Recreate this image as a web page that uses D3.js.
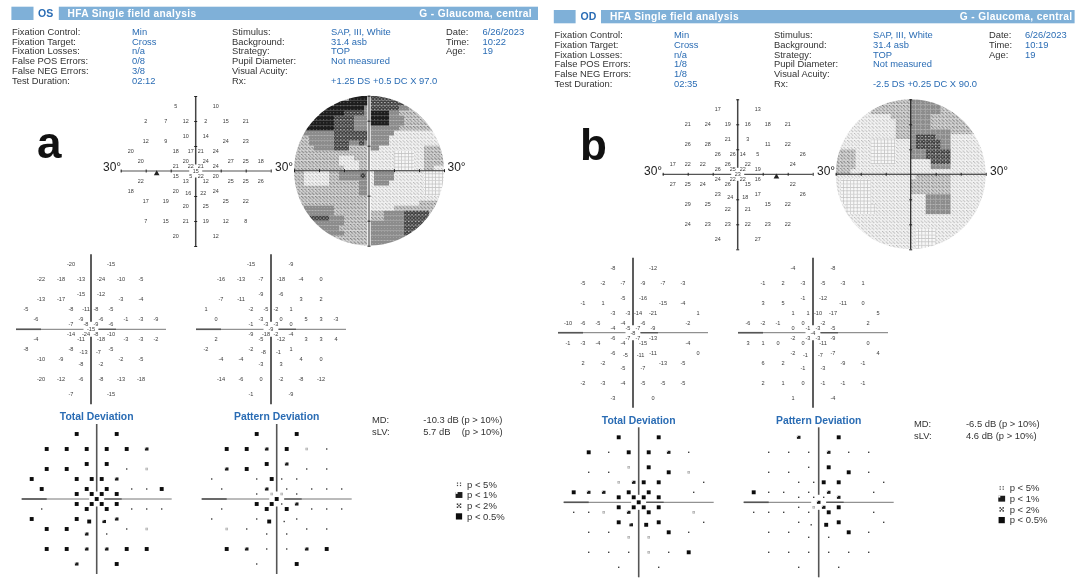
<!DOCTYPE html>
<html><head><meta charset="utf-8">
<style>html,body{margin:0;padding:0;background:#fff}svg{display:block;font-family:"Liberation Sans",Arial,sans-serif;filter:blur(0.4px)}</style>
<script src="https://cdn.jsdelivr.net/npm/d3@7"></script></head><body><svg id="c" width="1080" height="581"></svg>
<script>
// ---------- test grid (degrees) ----------
const gridXOS=[-8,8,-20,-12,-4,4,12,20,-4,4,-20,-12,12,20,-26,-8,-2,2,8,-22,-4,4,14,20,26,-8,-2,2,8,0,-8,-2,2,8,-22,-4,4,14,20,26,-26,-8,-3,3,8,-20,-12,12,20,-4,4,-20,-12,-4,4,12,20,-8,8];
const gridYOS=[-26,-26,-20,-20,-20,-20,-20,-20,-14,-14,-12,-12,-12,-12,-8,-8,-8,-8,-8,-4,-4,-4,-4,-4,-4,-2,-2,-2,-2,0,2,2,2,2,4,4,4,4,4,4,8,8,9,9,8,12,12,12,12,14,14,20,20,20,20,20,20,26,26];
const gridXOD=[-8,8,-20,-12,-4,4,12,20,-4,4,-20,-12,12,20,-8,-2,2,8,26,-26,-20,-14,-4,4,22,-8,-2,2,8,0,-8,-2,2,8,-26,-20,-14,-4,4,22,-8,-3,3,8,26,-20,-12,12,20,-4,4,-20,-12,-4,4,12,20,-8,8];
const gridYOD=[-26,-26,-20,-20,-20,-20,-20,-20,-14,-14,-12,-12,-12,-12,-8,-8,-8,-8,-8,-4,-4,-4,-4,-4,-4,-2,-2,-2,-2,0,2,2,2,2,4,4,4,4,4,4,8,9,9,8,8,12,12,12,12,14,14,20,20,20,20,20,20,26,26];
// ---------- sensitivities ----------
const thresholdOS=[5,10,2,7,12,2,15,21,10,14,12,9,24,23,20,18,17,21,24,20,20,24,27,25,18,21,22,21,24,15,15,5,22,20,22,13,12,25,25,26,18,20,16,22,24,17,19,25,22,20,25,7,15,21,19,12,8,20,12];
const totalOS=[-20,-15,-22,-18,-13,-24,-10,-5,-15,-12,-13,-17,-3,-4,-5,-8,-11,-8,-5,-6,-9,-6,-1,-3,-9,-7,-8,-9,-6,-15,-14,-24,-8,-10,-4,-11,-18,-3,-3,-2,-8,-8,-13,-7,-5,-10,-9,-2,-5,-8,-2,-20,-12,-6,-8,-13,-18,-7,-15];
const patternOS=[-15,-9,-16,-13,-7,-18,-4,0,-9,-6,-7,-11,3,2,1,-2,-5,-2,1,0,-3,0,5,3,-3,-1,-3,-3,0,-9,-9,-18,-2,-4,2,-5,-12,3,3,4,-2,-2,-8,-1,1,-4,-4,4,0,-3,3,-14,-6,0,-2,-8,-12,-1,-9];
const thresholdOD=[17,13,21,24,19,16,18,21,21,3,26,28,11,22,26,26,14,5,26,17,22,22,26,22,24,26,25,22,19,23,24,22,22,16,27,25,24,26,15,22,23,24,18,17,26,29,25,15,22,22,21,24,23,23,22,23,22,24,27];
const totalOD=[-8,-12,-5,-2,-7,-9,-7,-3,-5,-16,-1,1,-15,-4,-3,-3,-14,-21,1,-10,-6,-5,-4,-6,-2,-4,-5,-7,-9,-8,-6,-7,-7,-13,-1,-3,-4,-4,-15,-4,-6,-5,-11,-11,0,2,-2,-13,-5,-5,-7,-2,-3,-4,-5,-5,-5,-3,0];
const patternOD=[-4,-8,-1,2,-3,-5,-3,1,-1,-12,3,5,-11,0,1,1,-10,-17,5,-6,-2,-1,0,-2,2,0,-1,-3,-5,-4,-2,-3,-3,-9,3,1,0,0,-11,0,-2,-1,-7,-7,4,6,2,-9,-1,-1,-3,2,1,0,-1,-1,-1,1,-4];
// ---------- probability levels: 0 none, 1 p<5, 3 p<1, 4 p<0.5 ----------
const probTotalOS=[4,4,4,4,4,4,4,3,4,4,4,4,0,1,4,4,4,4,3,4,4,4,0,0,4,4,4,4,4,4,4,4,4,4,0,4,4,0,0,0,4,4,4,3,3,4,4,0,1,3,0,4,4,3,3,4,4,3,4];
const probPatternOS=[4,4,4,4,3,4,1,0,4,3,3,4,0,0,0,0,4,0,0,0,3,0,0,0,0,0,1,1,0,4,4,4,0,3,0,4,4,0,0,0,0,0,4,0,0,1,0,0,0,0,0,4,3,0,0,3,4,0,4];
const probTotalOD=[4,4,4,0,4,4,3,0,1,4,0,0,4,1,1,3,4,4,0,4,3,3,4,4,0,4,4,4,4,4,4,4,4,4,0,0,1,3,4,1,4,3,4,4,0,0,0,4,0,1,1,0,0,0,1,0,4,0,0];
const probPatternOD=[3,4,0,0,0,3,0,0,0,4,0,0,4,0,0,0,4,4,0,4,0,0,0,3,0,0,0,0,3,3,0,1,3,4,0,0,0,0,4,0,0,0,4,4,0,0,0,4,0,0,0,0,0,0,0,0,0,0,0];
// ---------- gray map, run-length rows (30 x 30 tiles across 60 degrees) ----------
const grayOS=["b11 e4 d6 a9","b8 e7 d7 b8","b6 e8 c1 d6 c2 b7","b5 e5 d4 c1 e4 c2 b9","b4 e4 d4 c3 e4 c3 b8","b3 e5 d4 c3 e4 c3 b8","b2 e6 d4 c3 c4 c2 b9","b2 c6 d7 c4 c1 a10","b3 c5 d7 c4 a10 b1","b3 c5 d3 c2 d1 c1 c4 a11","b4 c4 d3 b4 c2 a9 b4","b15 a5 g4 a2 b4","b9 a3 b3 a5 g4 a2 b4","b9 a4 b2 a5 g4 a2 b4","b10 a3 b2 a5 g4 a2 b2 a2","b2 a5 b2 c6 a1 c4 a6 g4","b2 a5 b2 c6 a1 c4 a6 g4","b2 a5 b6 c2 a1 c3 a7 g4","b13 c2 a11 g4","b13 c2 a11 g4","b15 a15","b15 a10 b5","b2 c6 b7 a5 b10","b2 c6 b7 b3 c4 d5 b3","b2 c1 d4 c3 b5 b3 c4 d5 b3","b3 c7 b5 c7 d4 b4","b4 c5 b6 c7 d4 b4","b5 c5 b5 c7 d3 b5","b15 c8 b7","b15 c6 b9"];
const grayOD=["a7 b8 c5 b10","a7 b8 c6 b9","a7 b8 c6 b9","a11 b4 c4 b11","a12 b3 c4 b11","a12 b3 c4 b11","a12 b3 c8 b7","a12 b3 c1 d4 c3 a7","a7 g5 a3 c1 d5 c2 a7","a7 g5 a3 c1 d5 c2 a7","b4 a3 g5 a3 c3 d5 a7","b4 a3 g5 a3 c3 d5 a7","b4 a3 g5 a3 a4 d4 a7","b4 a11 a4 c4 a7","b3 a27","a16 b7 a7","a1 g6 a8 b8 a7","a1 g6 a8 b8 a7","a1 g6 a8 b8 a7","a1 g6 a8 a3 c5 a7","a1 g6 a8 a3 c5 a7","a2 g6 a7 a3 c5 a7","a2 g6 a7 a3 c5 a7","a30","a30","a30","a16 g4 a10","a16 g4 a10","a16 g4 a10","a16 g4 a10"];
// ---------- text ----------
const infoLabels1=["Fixation Control:","Fixation Target:","Fixation Losses:","False POS Errors:","False NEG Errors:","Test Duration:"];
const infoLabels2=["Stimulus:","Background:","Strategy:","Pupil Diameter:","Visual Acuity:","Rx:"];
const infoLabels3=["Date:","Time:","Age:"];
const infoValuesOS1=["Min","Cross","n/a","0/8","3/8","02:12"];
const infoValuesOD1=["Min","Cross","n/a","1/8","1/8","02:35"];
const infoValuesOS2=["SAP, III, White","31.4 asb","TOP","Not measured","","+1.25 DS +0.5 DC X 97.0"];
const infoValuesOD2=["SAP, III, White","31.4 asb","TOP","Not measured","","-2.5 DS +0.25 DC X 90.0"];
const infoValuesOS3=["6/26/2023","10:22","19"];
const infoValuesOD3=["6/26/2023","10:19","19"];
const legendLabels=["p < 5%","p < 1%","p < 2%","p < 0.5%"];

const BLUE="#2a6cb4",BAR="#7fb0d8",PX=2.5;
const svg=d3.select("#c");
const defs=svg.append("defs");
function pat(id,w,bg,marks){
  const p=defs.append("pattern").attr("id",id).attr("patternUnits","userSpaceOnUse").attr("width",w).attr("height",w);
  p.append("rect").attr("width",w).attr("height",w).attr("fill",bg);
  marks.forEach(m=>p.append("rect").attr("x",m[0]).attr("y",m[1]).attr("width",m[2]).attr("height",m[3]).attr("fill",m[4]));
}
pat("pg",3.4,"#f7f7f7",[[0,0,3.4,.8,"#c4c4c4"],[0,0,.8,3.4,"#c4c4c4"]]);
pat("pa",3.5,"#f2f2f2",[[0,0,1.1,.9,"#b4b4b4"],[.9,.9,1.1,.9,"#b4b4b4"],[1.8,1.8,1.1,.9,"#b4b4b4"]]);
pat("pb",3.5,"#cfcfcf",[[0,0,1.2,.9,"#787878"],[.9,.9,1.2,.9,"#787878"],[1.8,1.8,1.2,.9,"#787878"]]);
pat("pc",3,"#8c8c8c",[[0,0,1,1,"#a0a0a0"]]);
pat("pd",3.4,"#3f3f3f",[[0,0,1.4,1,"#c4c4c4"],[1.7,1.7,1.2,.9,"#989898"]]);
pat("pe",3.4,"#1d1d1d",[[0,0,1,1,"#666"]]);

function txt(x,y,s,o={}){
  return svg.append("text").attr("x",x).attr("y",y).text(s)
   .attr("font-size",o.size||9.4).attr("fill",o.fill||"#333").attr("font-weight",o.weight||"normal")
   .attr("text-anchor",o.anchor||"start").attr("letter-spacing",o.ls||null);
}
function scales(cx,cy){
  return {x:d3.scaleLinear().domain([-30,30]).range([cx-30*PX,cx+30*PX]),
          y:d3.scaleLinear().domain([-30,30]).range([cy-30*PX,cy+30*PX])};
}
// cross-hair: axis ticks via d3.axis, shaft drawn through scales so that it can be broken at centre
function cross(s,o){
  const g=svg.append("g");
  const cy=s.y(0),cx=s.x(0),gap=o.gap||0;
  const seg=(a,b,h,col,w)=>{
    g.append("line").attr("x1",h?s.x(a):cx).attr("x2",h?s.x(b):cx).attr("y1",h?cy:s.y(a)).attr("y2",h?cy:s.y(b))
     .attr("stroke",col||(h?o.hc:o.vc)).attr("stroke-width",w||(h?o.hw:o.vw));
  };
  if(gap){seg(-30,-gap,true);seg(gap,30,true);seg(-30,-gap,false);seg(gap,30,false);}
  else{seg(-30,30,true);seg(-30,30,false);}
  if(o.thick){seg(-30,-20,true,"#555",1.6);seg(gap,10,true,"#555",1.3);}
  if(o.ticks){
    const tv=[-30,-20,-10,10,20,30];
    const ax=g.append("g").attr("transform",`translate(0,${cy})`).call(d3.axisBottom(s.x).tickValues(tv).tickFormat("").tickSize(2));
    ax.select(".domain").remove();
    ax.selectAll("line").attr("y1",-1.5).attr("y2",1.5).attr("stroke","#222");
    const ay=g.append("g").attr("transform",`translate(${cx},0)`).call(d3.axisLeft(s.y).tickValues(tv).tickFormat("").tickSize(2));
    ay.select(".domain").remove();
    ay.selectAll("line").attr("x1",-1.5).attr("x2",1.5).attr("stroke","#222");
  }
}
function numbers(cx,cy,gx,gy,vals,size){
  const s=scales(cx,cy);
  svg.append("g").selectAll("text").data(vals).join("text")
   .attr("x",(d,i)=>s.x(gx[i])).attr("y",(d,i)=>s.y(gy[i])).attr("dy",".36em").attr("text-anchor","middle")
   .attr("font-size",size).attr("fill","#3a3a3a").text(d=>d);
  return s;
}
function threshold(cx,cy,gx,gy,vals,tri){
  const s=scales(cx,cy);
  cross(s,{hc:"#555",vc:"#444",hw:1.2,vw:1.5,gap:2.6,ticks:true});
  numbers(cx,cy,gx,gy,vals,5.4);
  svg.append("path").attr("d",d3.symbol(d3.symbolTriangle,14)()).attr("fill","#222")
    .attr("transform",`translate(${s.x(tri[0])},${s.y(tri[1])})`);
}
function deviation(cx,cy,gx,gy,vals){
  const s=scales(cx,cy);
  cross(s,{hc:"#777",vc:"#555",hw:1,vw:1.9,gap:3,thick:true});
  numbers(cx,cy,gx,gy,vals,5.6);
}
function glyph(g,x,y,level,k){
  const r=(w,h,f,dx=0,dy=0)=>g.append("rect").attr("x",x-w/2+dx).attr("y",y-h/2+dy).attr("width",w).attr("height",h).attr("fill",f);
  k=k||1;
  if(level===4) r(3.9*k,3.9*k,"#0c0c0c");
  else if(level===3){ r(3.6*k,3.1*k,"#1c1c1c"); r(1.1*k,1*k,"#fff",-1.3*k,-1.1*k); }
  else if(level===2){ [[-1,-1],[1,-1],[0,0],[-1,1],[1,1]].forEach(d=>r(1*k,1*k,"#333",d[0]*k,d[1]*k)); }
  else if(level===1){ r(2.6*k,2.6*k,"#b4b4b4"); r(.9*k,.9*k,"#eee"); }
  else r(1.4*k,1.4*k,"#3f3f3f");
}
function prob(cx,cy,gx,gy,levels,title){
  const s=scales(cx,cy);
  cross(s,{hc:"#777",vc:"#555",hw:1,vw:1.6,gap:3,thick:true});
  const g=svg.append("g");
  levels.forEach((l,i)=>glyph(g,s.x(gx[i]),s.y(gy[i]),l));
  txt(cx,cy-78.7,title,{size:10.4,weight:"bold",fill:BLUE,anchor:"middle"});
}
function grayMap(cx,cy,rows,id){
  const s=scales(cx,cy);
  const cols=d3.range(30),col=d3.scaleBand().domain(cols).range([s.x(-30),s.x(30)]),row=d3.scaleBand().domain(cols).range([s.y(-30),s.y(30)]);
  defs.append("clipPath").attr("id",id).append("circle").attr("cx",cx).attr("cy",cy).attr("r",30*PX);
  const cells=[];
  rows.forEach((rw,r)=>{let c=0;rw.split(" ").forEach(t=>{const n=+t.slice(1);for(let i=0;i<n&&c<30;i++,c++)cells.push({r,c,t:t[0]});});});
  svg.append("g").attr("clip-path",`url(#${id})`).selectAll("rect").data(cells).join("rect")
    .attr("x",d=>col(d.c)).attr("y",d=>row(d.r)).attr("width",col.bandwidth()+.05).attr("height",row.bandwidth()+.05)
    .attr("fill",d=>`url(#p${d.t})`);
  return s;
}
function header(o){
  svg.append("rect").attr("x",o.b0).attr("y",o.barY).attr("width",o.b1-o.b0).attr("height",13.3).attr("fill",BAR);
  svg.append("rect").attr("x",o.b2).attr("y",o.barY).attr("width",o.b3-o.b2).attr("height",13.3).attr("fill",BAR);
  txt(o.eyeX,o.barY+10.2,o.eye,{size:10.5,weight:"bold",fill:BLUE});
  txt(o.hfaX,o.barY+10.2,"HFA Single field analysis",{size:10.2,weight:"bold",fill:"#fff",ls:.35});
  txt(o.rightX,o.barY+10.2,"G - Glaucoma, central",{size:10.2,weight:"bold",fill:"#fff",anchor:"end",ls:.35});
  const ys=d3.range(6).map(i=>o.infoY+i*9.75);
  infoLabels1.forEach((t,i)=>txt(o.c[0],ys[i],t));
  o.v1.forEach((t,i)=>txt(o.c[1],ys[i],t,{fill:BLUE}));
  infoLabels2.forEach((t,i)=>txt(o.c[2],ys[i],t));
  o.v2.forEach((t,i)=>txt(o.c[3],ys[i],t,{fill:BLUE}));
  infoLabels3.forEach((t,i)=>txt(o.c[4],ys[i],t));
  o.v3.forEach((t,i)=>txt(o.c[5],ys[i],t,{fill:BLUE}));
}
function legend(gx,tx,y0){
  const g=svg.append("g");
  legendLabels.forEach((t,i)=>{
    const y=y0+i*10.7;
    txt(tx,y+3.3,t,{size:9.5});
    if(i===0){[[-1,-1],[1,-1],[-1,1],[1,1]].forEach(d=>g.append("rect").attr("x",gx+d[0]*1.5-.6).attr("y",y+d[1]*1.2-.6).attr("width",1.2).attr("height",1.2).attr("fill","#444"));}
    if(i===1) glyph(g,gx,y,3,1.9);
    if(i===2) glyph(g,gx,y,2,1.5);
    if(i===3) glyph(g,gx,y,4,1.6);
  });
}
// ---------- panel a ----------
header({b0:11.4,b1:33.5,b2:58.8,b3:538,barY:6.7,eye:"OS",eyeX:38,hfaX:67.5,rightX:532,infoY:34.8,
  c:[12,132,232,331,446,482.5],v1:infoValuesOS1,v2:infoValuesOS2,v3:infoValuesOS3});
txt(37,158,"a",{size:44,weight:"bold",fill:"#111"});
threshold(195.7,171,gridXOS,gridYOS,thresholdOS,[-15.6,1]);
txt(103,171,"30°",{size:12,fill:"#222"});txt(275,171,"30°",{size:12,fill:"#222"});txt(447.5,171,"30°",{size:12,fill:"#222"});
let sg=grayMap(369,170.7,grayOS,"clipA");
svg.append("rect").attr("x",sg.x(-2.4)-2.5).attr("y",sg.y(2)-2.5).attr("width",5).attr("height",5).attr("fill","url(#pd)");
svg.append("line").attr("x1",sg.x(0)).attr("x2",sg.x(0)).attr("y1",sg.y(-30)).attr("y2",sg.y(30)).attr("stroke","#fff").attr("stroke-width",3.4);
cross(sg,{hc:"#333",vc:"#666",hw:1.1,vw:1.4,ticks:true});
deviation(91,329.3,gridXOS,gridYOS,totalOS);
deviation(271,329.3,gridXOS,gridYOS,patternOS);
prob(96.7,499,gridXOS,gridYOS,probTotalOS,"Total Deviation");
prob(276.7,499,gridXOS,gridYOS,probPatternOS,"Pattern Deviation");
txt(372,423,"MD:");txt(372,435,"sLV:");
txt(423.3,423,"-10.3 dB (p > 10%)");txt(423.3,435,"5.7 dB");txt(461.7,435,"(p > 10%)");
legend(459,467,484.3);
// ---------- panel b ----------
header({b0:553.8,b1:575.6,b2:601,b3:1074.6,barY:10,eye:"OD",eyeX:580.5,hfaX:610,rightX:1072.5,infoY:38,
  c:[554.5,674,774,873,989,1025],v1:infoValuesOD1,v2:infoValuesOD2,v3:infoValuesOD3});
txt(580,160,"b",{size:44,weight:"bold",fill:"#111"});
threshold(737.7,174.3,gridXOD,gridYOD,thresholdOD,[15.5,1]);
txt(644,174.5,"30°",{size:12,fill:"#222"});txt(817,174.5,"30°",{size:12,fill:"#222"});txt(990,174.5,"30°",{size:12,fill:"#222"});
sg=grayMap(910.7,174.3,grayOD,"clipB");
cross(sg,{hc:"#222",vc:"#222",hw:1.1,vw:1.2,ticks:true});
deviation(633,332.7,gridXOD,gridYOD,totalOD);
deviation(813,332.7,gridXOD,gridYOD,patternOD);
prob(638.7,502.3,gridXOD,gridYOD,probTotalOD,"Total Deviation");
prob(818.7,502.3,gridXOD,gridYOD,probPatternOD,"Pattern Deviation");
txt(914,426.5,"MD:");txt(914,438.5,"sLV:");
txt(966,426.5,"-6.5 dB (p > 10%)");txt(966,438.5,"4.6 dB  (p > 10%)");
legend(1001.7,1009.7,488);
</script></body></html>
